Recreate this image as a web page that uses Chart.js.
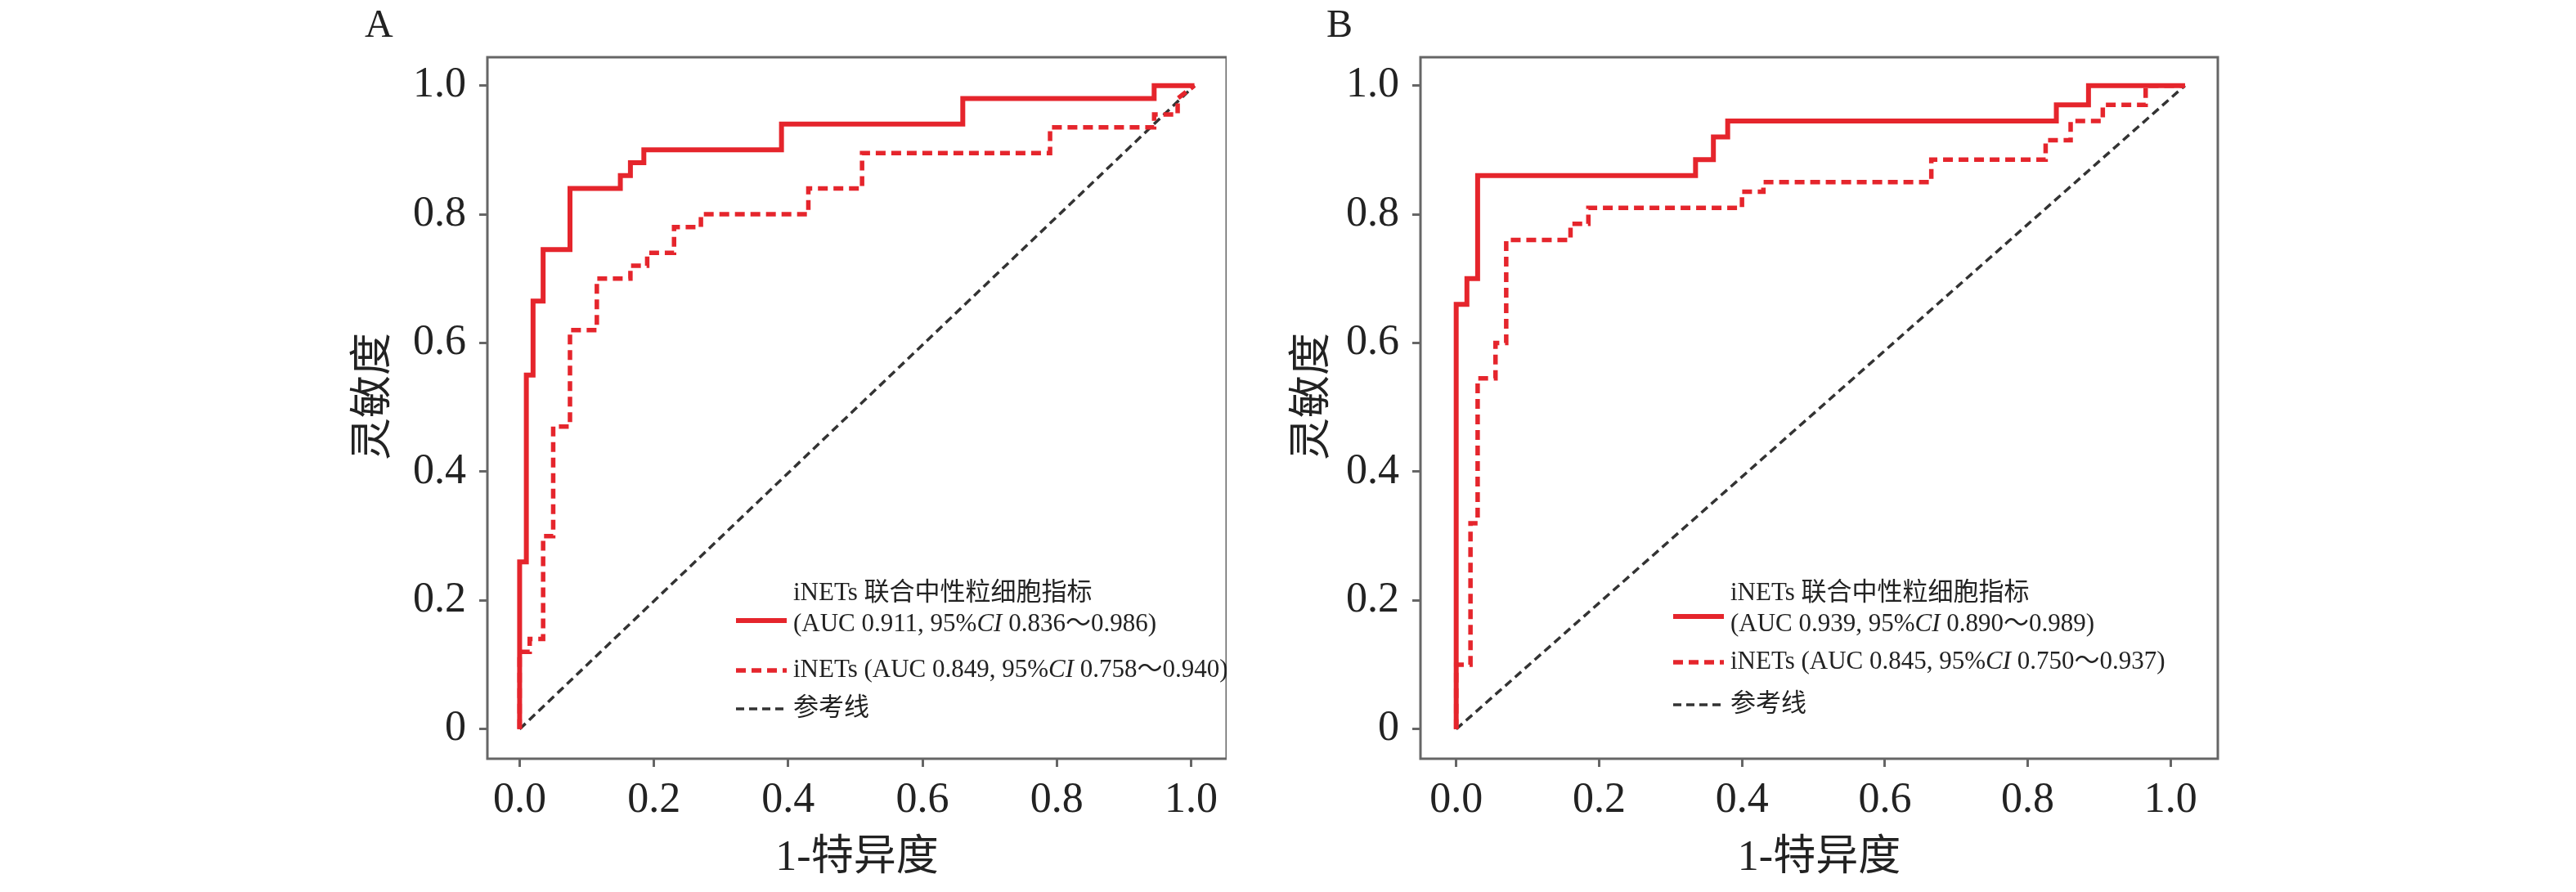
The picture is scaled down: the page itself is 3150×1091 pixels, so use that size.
<!DOCTYPE html>
<html><head><meta charset="utf-8">
<script src="https://cdn.jsdelivr.net/npm/chart.js@4"></script>
<style>
body{margin:0;background:#fff;width:3150px;height:1091px;position:relative;overflow:hidden}
canvas{position:absolute;top:0}
</style></head><body>
<canvas id="chartA" style="left:0"></canvas>
<canvas id="chartB" style="left:1500px"></canvas>
<script>
// panel A
const combinedAx = [0,0,0.01,0.01,0.02,0.02,0.035,0.035,0.075,0.075,0.15,0.15,0.165,0.165,0.185,0.185,0.39,0.39,0.66,0.66,0.945,0.945,1.005];
const combinedAy = [0,0.26,0.26,0.55,0.55,0.665,0.665,0.745,0.745,0.84,0.84,0.86,0.86,0.88,0.88,0.90,0.90,0.94,0.94,0.98,0.98,1.0,1.0];
const inetsAx = [0,0,0.015,0.015,0.035,0.035,0.05,0.05,0.075,0.075,0.115,0.115,0.165,0.165,0.19,0.19,0.23,0.23,0.27,0.27,0.43,0.43,0.51,0.51,0.79,0.79,0.945,0.945,0.98,0.98,1.005];
const inetsAy = [0,0.12,0.12,0.14,0.14,0.30,0.30,0.47,0.47,0.62,0.62,0.70,0.70,0.72,0.72,0.74,0.74,0.78,0.78,0.80,0.80,0.84,0.84,0.895,0.895,0.935,0.935,0.955,0.955,0.98,1.0];
const refAx = [0,1.005];
const refAy = [0,1.0];
// panel B
const combinedBx = [0,0,0.015,0.015,0.03,0.03,0.335,0.335,0.36,0.36,0.38,0.38,0.84,0.84,0.885,0.885,1.02];
const combinedBy = [0,0.66,0.66,0.70,0.70,0.86,0.86,0.885,0.885,0.92,0.92,0.945,0.945,0.97,0.97,1.0,1.0];
const inetsBx = [0,0,0.02,0.02,0.03,0.03,0.055,0.055,0.07,0.07,0.16,0.16,0.185,0.185,0.40,0.40,0.43,0.43,0.665,0.665,0.825,0.825,0.86,0.86,0.905,0.905,0.965,0.965,1.02];
const inetsBy = [0,0.10,0.10,0.32,0.32,0.545,0.545,0.60,0.60,0.76,0.76,0.785,0.785,0.81,0.81,0.835,0.835,0.85,0.85,0.885,0.885,0.915,0.915,0.945,0.945,0.97,0.97,1.0,1.0];
const refBx = [0,1.02];
const refBy = [0,1.0];

const tickValues = [0,0.2,0.4,0.6,0.8,1.0];
const legendA = ["iNETs 联合中性粒细胞指标", "(AUC 0.911, 95%", "CI", " 0.836～0.986)", "iNETs (AUC 0.849, 95%", "CI", " 0.758～0.940)", "参考线"];
const legendB = ["iNETs 联合中性粒细胞指标", "(AUC 0.939, 95%", "CI", " 0.890～0.989)", "iNETs (AUC 0.845, 95%", "CI", " 0.750～0.937)", "参考线"];

const RED = "#e5252c";
const FONT = '"Liberation Serif", "Noto Sans CJK SC", serif';
const pts = (xs, ys) => xs.map((x, i) => ({ x: x, y: ys[i] }));

function decor(opts) {
  return {
    id: "decor",
    afterDraw(chart) {
      const c = chart.ctx, a = chart.chartArea;
      c.save();
      c.strokeStyle = "#666"; c.lineWidth = 3;
      c.strokeRect(a.left, a.top, a.right - a.left, a.bottom - a.top);
      c.fillStyle = "#222";
      c.font = "48px " + FONT; c.textBaseline = "top"; c.textAlign = "left";
      c.fillText(opts.label, opts.labelX, 8);
      c.font = "52px " + FONT; c.textAlign = "center"; c.textBaseline = "middle";
      c.fillText("1-特异度", (a.left + a.right) / 2, 1050);
      c.save(); c.translate(opts.yTitleX, 485); c.rotate(-Math.PI / 2);
      c.fillText("灵敏度", 0, 0); c.restore();
      // legend
      const L = opts.legend, lx = opts.legX, tx = opts.legX + 70;
      c.textAlign = "left"; c.textBaseline = "middle";
      const seg = (parts, x, y) => {
        parts.forEach(p => {
          c.font = (p[1] ? "italic " : "") + "31px " + FONT;
          c.fillText(p[0], x, y); x += c.measureText(p[0]).width;
        });
      };
      const line = (y, color, w, dash) => {
        c.beginPath(); c.setLineDash(dash); c.strokeStyle = color; c.lineWidth = w;
        c.moveTo(lx, y); c.lineTo(lx + 62, y); c.stroke();
      };
      seg([[L[0]]], tx, opts.ys[0]);
      seg([[L[1]], [L[2], true], [L[3]]], tx, opts.ys[1]);
      line(opts.ys[2], RED, 6, []);
      seg([[L[4]], [L[5], true], [L[6]]], tx, opts.ys[3]);
      line(opts.ys[3], RED, 5.5, [12, 7]);
      seg([[L[7]]], tx, opts.ys[4]);
      line(opts.ys[4], "#333", 3.5, [10, 6]);
      c.restore();
    }
  };
}

function makeChart(id, w, pad, xMax, sets, opts) {
  const cv = document.getElementById(id);
  cv.width = w; cv.height = 1091;
  return new Chart(cv, {
    type: "line",
    data: {
      datasets: [
        { data: pts(sets[0], sets[1]), borderColor: RED, borderWidth: 6, pointRadius: 0 },
        { data: pts(sets[2], sets[3]), borderColor: RED, borderWidth: 5.5, borderDash: [12, 7], pointRadius: 0 },
        { data: pts(sets[4], sets[5]), borderColor: "#333", borderWidth: 3.5, borderDash: [10, 6], pointRadius: 0 }
      ]
    },
    options: {
      responsive: false, animation: false,
      layout: { padding: pad },
      plugins: { legend: { display: false }, tooltip: { enabled: false } },
      scales: {
        x: {
          type: "linear", min: opts.xMin, max: xMax,
          afterBuildTicks: s => { s.ticks = tickValues.map(v => ({ value: v })); },
          afterFit: s => { s.height = 100; },
          grid: { drawOnChartArea: false, tickLength: 10, color: "#666", lineWidth: 3 },
          border: { display: false },
          ticks: { color: "#222", font: { family: FONT, size: 52 }, padding: 10, callback: v => v.toFixed(1) }
        },
        y: {
          min: -0.046, max: 1.044,
          afterBuildTicks: s => { s.ticks = tickValues.map(v => ({ value: v })); },
          afterFit: s => { s.width = 120; },
          grid: { drawOnChartArea: false, tickLength: 10, color: "#666", lineWidth: 3 },
          border: { display: false },
          ticks: { color: "#222", font: { family: FONT, size: 52 }, padding: 16, callback: v => v === 0 ? "0" : v.toFixed(1) }
        }
      }
    },
    plugins: [decor(opts)]
  });
}

makeChart("chartA", 1500, { left: 476, right: -58, top: 70, bottom: 63 }, 1.053,
  [combinedAx, combinedAy, inetsAx, inetsAy, refAx, refAy],
  { xMin: -0.048, label: "A", labelX: 446, yTitleX: 458, legend: legendA, legX: 900, ys: [726, 764, 759, 820, 867] });
makeChart("chartB", 1650, { left: 117, right: 438, top: 70, bottom: 63 }, 1.066,
  [combinedBx, combinedBy, inetsBx, inetsBy, refBx, refBy],
  { xMin: -0.050, label: "B", labelX: 122, yTitleX: 106, legend: legendB, legX: 546, ys: [726, 764, 754, 810, 862] });
</script>
</body></html>
